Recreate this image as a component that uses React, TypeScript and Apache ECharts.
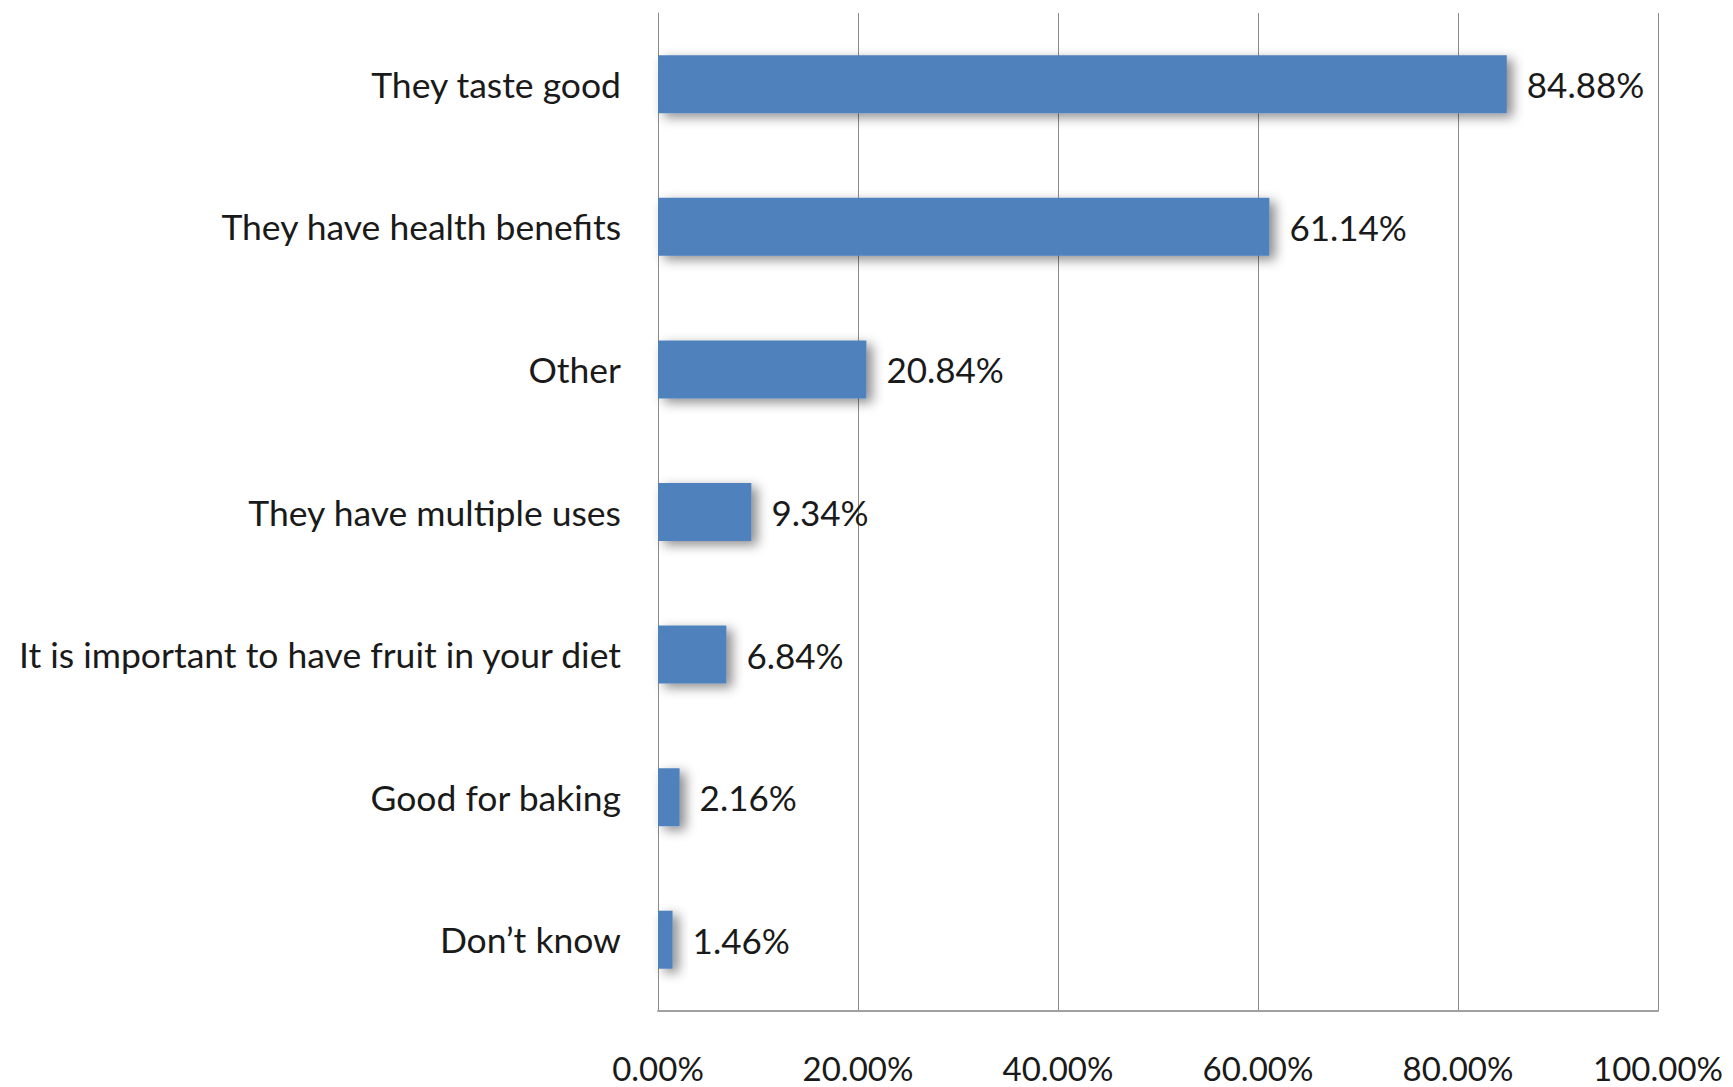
import React, { useEffect, useRef } from "react";
import * as echarts from "echarts";

const categories = [
  "They taste good",
  "They have health benefits",
  "Other",
  "They have multiple uses",
  "It is important to have fruit in your diet",
  "Good for baking",
  "Don\u2019t know",
];
const values = [84.88, 61.14, 20.84, 9.34, 6.84, 2.16, 1.46];
const xTicks = [0, 20, 40, 60, 80, 100];

export default function App() {
  const ref = useRef<HTMLDivElement>(null);
  useEffect(() => {
    if (!ref.current) return;
    const chart = echarts.init(ref.current, null, { renderer: "svg" });
    chart.setOption({
      animation: false,
      backgroundColor: "#ffffff",
      grid: { left: 658, right: 75, top: 13, bottom: 76, containLabel: false },
      xAxis: {
        type: "value",
        min: xTicks[0],
        max: xTicks[xTicks.length - 1],
        interval: 20,
        axisLine: { show: true, lineStyle: { color: "#a0a0a0", width: 2 } },
        axisTick: { show: false },
        splitLine: { show: true, lineStyle: { color: "#8c8c8c", width: 1 } },
        axisLabel: {
          margin: 40,
          fontFamily: "Lato",
          fontSize: 33,
          color: "#1a1a1a",
          formatter: (v: number) => v.toFixed(2) + "%",
        },
      },
      yAxis: {
        type: "category",
        inverse: true,
        data: categories,
        axisLine: { show: true, lineStyle: { color: "#8c8c8c", width: 1 } },
        axisTick: { show: false },
        axisLabel: {
          margin: 37,
          fontFamily: "Lato",
          fontSize: 35.5,
          color: "#1a1a1a",
        },
      },
      series: [
        {
          type: "bar",
          data: values,
          barWidth: "40.7%",
          itemStyle: {
            color: "#4f81bd",
            shadowBlur: 12,
            shadowOffsetX: 6,
            shadowOffsetY: 4,
            shadowColor: "rgba(0,0,0,0.45)",
          },
          label: {
            show: true,
            position: "right",
            distance: 20,
            fontFamily: "Lato",
            fontSize: 35,
            color: "#1a1a1a",
            formatter: (p: any) => p.value.toFixed(2) + "%",
          },
        },
      ],
    });
    return () => chart.dispose();
  }, []);
  return (
    <div
      ref={ref}
      style={{ position: "absolute", left: 0, top: 0, width: 1733, height: 1087 }}
    />
  );
}
